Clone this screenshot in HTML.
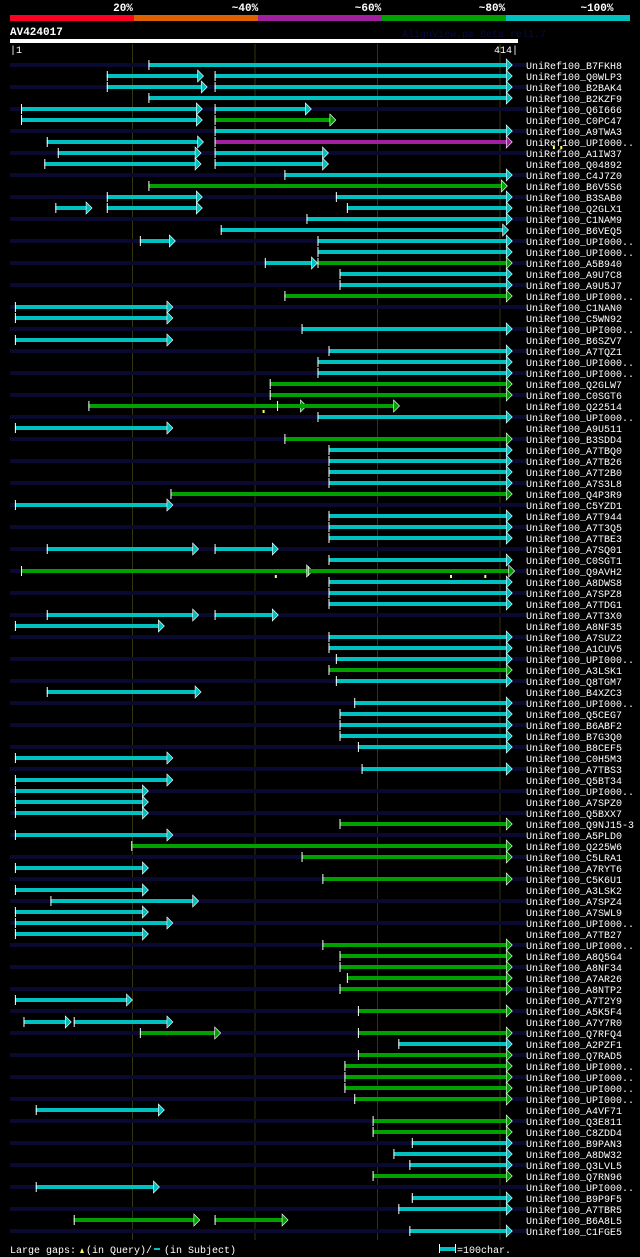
<!DOCTYPE html>
<html><head><meta charset="utf-8">
<style>
html,body{margin:0;padding:0;background:#000;}
svg{display:block;}
text{font-family:"Liberation Mono","DejaVu Sans Mono",monospace;}
</style></head>
<body>
<svg id="chart" width="640" height="1257" viewBox="0 0 640 1257" xmlns="http://www.w3.org/2000/svg">
  <rect x="0" y="0" width="640" height="1257" fill="#000"/>
  <g>
    <rect x="10" y="15" width="124" height="6" fill="#ff0022"/>
    <rect x="134" y="15" width="124" height="6" fill="#e06000"/>
    <rect x="258" y="15" width="124" height="6" fill="#a020a0"/>
    <rect x="382" y="15" width="124" height="6" fill="#00a000"/>
    <rect x="506" y="15" width="124" height="6" fill="#00c0c0"/>
    <text x="123" y="11" fill="#fff" font-size="11" font-weight="bold" text-anchor="middle">20%</text>
    <text x="245" y="11" fill="#fff" font-size="11" font-weight="bold" text-anchor="middle">~40%</text>
    <text x="368" y="11" fill="#fff" font-size="11" font-weight="bold" text-anchor="middle">~60%</text>
    <text x="492" y="11" fill="#fff" font-size="11" font-weight="bold" text-anchor="middle">~80%</text>
    <text x="597" y="11" fill="#fff" font-size="11" font-weight="bold" text-anchor="middle">~100%</text>
  </g>
  <text x="10" y="35" fill="#fff" font-size="11" font-weight="bold">AV424017</text>
  <text x="402" y="37" fill="#0a0a40" font-size="10">AlignView.pm Beta rel1.7</text>
  <rect x="10" y="39" width="508" height="4" fill="#fff"/>
  <text x="10" y="53" fill="#fff" font-size="10">|1</text>
  <text x="518" y="53" fill="#fff" font-size="10" text-anchor="end">414|</text>
  <g id="guides"></g>
  <g id="rows"></g>
  <g>
    <text x="10" y="1253" fill="#fff" font-size="10">Large gaps:</text>
    <polygon points="80,1253 82,1248 84,1253" fill="#ffff60"/>
    <text x="86" y="1253" fill="#fff" font-size="10">(in Query)/</text>
    <rect x="154" y="1248" width="6" height="2" fill="#00c0c0"/>
    <text x="164" y="1253" fill="#fff" font-size="10">(in Subject)</text>
    <rect x="439" y="1244" width="1" height="9" fill="#fff"/>
    <rect x="440" y="1247" width="15" height="4" fill="#00c0c0"/>
    <rect x="455" y="1244" width="1" height="9" fill="#fff"/>
    <text x="457" y="1253" fill="#fff" font-size="10">=100char.</text>
  </g>
</svg>
<script>
const names = ["B7FKH8","Q0WLP3","B2BAK4","B2KZF9","Q6I666","C0PC47","A9TWA3","UPI000..","A1IW37","Q04892",
"C4J7Z0","B6V5S6","B3SAB0","Q2GLX1","C1NAM9","B6VEQ5","UPI000..","UPI000..","A5B940","A9U7C8",
"A9U5J7","UPI000..","C1NAN0","C5WN92","UPI000..","B6SZV7","A7TQZ1","UPI000..","UPI000..","Q2GLW7",
"C0SGT6","Q22514","UPI000..","A9U511","B3SDD4","A7TBQ0","A7TB26","A7T2B0","A7S3L8","Q4P3R9",
"C5YZD1","A7T944","A7T3Q5","A7TBE3","A7SQ01","C0SGT1","Q9AVH2","A8DWS8","A7SPZ8","A7TDG1",
"A7T3X0","A8NF35","A7SUZ2","A1CUV5","UPI000..","A3LSK1","Q8TGM7","B4XZC3","UPI000..","Q5CEG7",
"B6ABF2","B7G3Q0","B8CEF5","C0H5M3","A7TBS3","Q5BT34","UPI000..","A7SPZ0","Q5BXX7","Q9NJ15-3",
"A5PLD0","Q225W6","C5LRA1","A7RYT6","C5K6U1","A3LSK2","A7SPZ4","A7SWL9","UPI000..","A7TB27",
"UPI000..","A8Q5G4","A8NF34","A7AR26","A8NTP2","A7T2Y9","A5K5F4","A7Y7R0","Q7RFQ4","A2PZF1",
"Q7RAD5","UPI000..","UPI000..","UPI000..","UPI000..","A4VF71","Q3E811","C8ZDD4","B9PAN3","A8DW32",
"Q3LVL5","Q7RN96","UPI000..","B9P9F5","A7TBR5","B6A8L5","C1FGE5"];
const segments = [
[[113,410,'c']],[[79,158,'c'],[167,410,'c']],[[79,161,'c'],[167,410,'c']],[[113,410,'c']],
[[9,157,'c'],[167,246,'c']],[[9,157,'c'],[167,266,'g']],[[167,410,'c']],[[30,158,'c'],[167,410,'p']],
[[39,156,'c'],[167,260,'c']],[[28,156,'c'],[167,260,'c']],[[224,410,'c']],[[113,406,'g']],
[[79,157,'c'],[266,410,'c']],[[37,67,'c'],[79,157,'c'],[275,410,'c']],[[242,410,'c']],[[172,407,'c']],
[[106,135,'c'],[251,410,'c']],[[251,410,'c']],[[208,251,'c'],[251,410,'g']],[[269,410,'c']],
[[269,410,'c']],[[224,410,'g']],[[4,133,'c']],[[4,133,'c']],[[238,410,'c']],[[4,133,'c']],
[[260,410,'c']],[[251,410,'c']],[[251,410,'c']],[[212,410,'g']],[[212,410,'g']],
[[64,242,'g'],[218,318,'g']],[[251,410,'c']],[[4,133,'c']],[[224,410,'g']],
[[260,410,'c']],[[260,410,'c']],[[260,410,'c']],[[260,410,'c']],[[131,410,'g']],[[4,133,'c']],
[[260,410,'c']],[[260,410,'c']],[[260,410,'c']],[[30,154,'c'],[167,219,'c']],[[260,410,'c']],
[[9,247,'g'],[243,412,'g']],[[260,410,'c']],[[260,410,'c']],[[260,410,'c']],
[[30,154,'c'],[167,219,'c']],[[4,126,'c']],[[260,410,'c']],[[260,410,'c']],[[266,410,'c']],
[[260,410,'g']],[[266,410,'c']],[[30,156,'c']],[[281,410,'c']],[[269,410,'c']],[[269,410,'c']],
[[269,410,'c']],[[284,410,'c']],[[4,133,'c']],[[287,410,'c']],[[4,133,'c']],[[4,113,'c']],
[[4,113,'c']],[[4,113,'c']],[[269,410,'g']],[[4,133,'c']],[[99,410,'g']],[[238,410,'g']],
[[4,113,'c']],[[255,410,'g']],[[4,113,'c']],[[33,154,'c']],[[4,113,'c']],[[4,133,'c']],
[[4,113,'c']],[[255,410,'g']],[[269,410,'g']],[[269,410,'g']],[[275,410,'g']],[[269,410,'g']],
[[4,100,'c']],[[284,410,'g']],[[11,50,'c'],[52,133,'c']],[[106,172,'g'],[284,410,'g']],
[[317,410,'c']],[[284,410,'g']],[[273,410,'g']],[[273,410,'g']],[[273,410,'g']],[[281,410,'g']],
[[21,126,'c']],[[296,410,'g']],[[296,410,'g']],[[328,410,'c']],[[313,410,'c']],[[326,410,'c']],
[[296,410,'g']],[[21,122,'c']],[[328,410,'c']],[[317,410,'c']],[[52,155,'g'],[167,227,'g']],
[[326,410,'c']]];
const gapRows = [8,8,32,47,47,47];
const gapPos = [444,450,207,217,360,388];
const guideTicks = [100,200,300,400];

const NS = "http://www.w3.org/2000/svg";
const colors = {c:"#00c0c0", g:"#00a000", p:"#a020a0"};
function xScale(p){ return 10 + p*1.225; }
function yRow(i){ return 65 + i*11; }
function mk(tag, attrs, parent){
  const el = document.createElementNS(NS, tag);
  for (const k in attrs) el.setAttribute(k, attrs[k]);
  parent.appendChild(el);
  return el;
}
const guides = document.getElementById('guides');
guideTicks.forEach(t => {
  const l = mk('line', {x1:xScale(t), x2:xScale(t), y1:44, y2:1240, stroke:'#34340e', 'stroke-width':1}, guides);
  
  
});
const rowsG = document.getElementById('rows');
names.forEach((nm, i) => {
  const y = yRow(i);
  const g = mk('g', {}, rowsG);
  
  
  if (i % 2 === 0) {
    const bg = mk('rect', {x:10, y:y-2, width:516, height:4, fill:'#0a0a30'}, g);
    
    
  }
  (segments[i] || []).forEach(s => {
    const xs = xScale(s[0]), xe = xScale(s[1]), col = colors[s[2]];
    const bar = mk('rect', {x:xs, y:y-2, width:Math.max(0, xe-6-xs), height:4, fill:col}, g);
    
    
    mk('line', {x1:xs+0.5, x2:xs+0.5, y1:y-5, y2:y+5, stroke:'#fff', 'stroke-width':1}, g);
    mk('polygon', {points:(xe-6)+','+(y-6)+' '+xe+','+y+' '+(xe-6)+','+(y+6), fill:col, stroke:'#fff', 'stroke-width':0.6}, g);
  });
  const t = mk('text', {x:526, y:y+4, fill:'#fff', 'font-size':10}, g);
  t.textContent = 'UniRef100_' + nm;
  
  
});
gapRows.forEach((r, k) => {
  const x = xScale(gapPos[k]), y = yRow(r-1) + 4;
  const m = mk('rect', {x:x-1, y:y, width:2, height:3, fill:'#ffff60'}, rowsG);
  
  
});
</script>
</body></html>
